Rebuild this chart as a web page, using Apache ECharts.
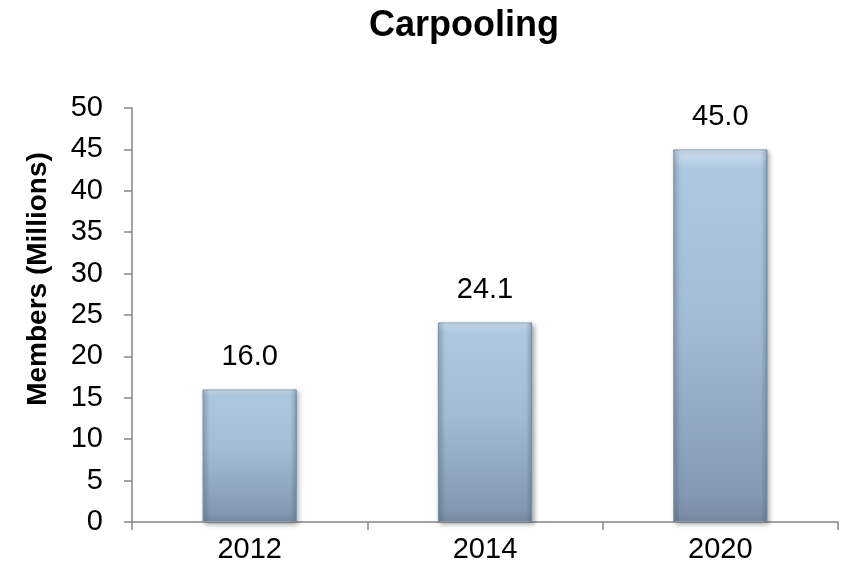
<!DOCTYPE html>
<html>
<head>
<meta charset="utf-8">
<script src="https://cdn.jsdelivr.net/npm/echarts@6/dist/echarts.min.js"></script>
<style>html,body{margin:0;padding:0;background:#fff;}#c{width:843px;height:575px;}</style>
</head>
<body>
<div id="c"></div>
<script>
var categories = ['2012', '2014', '2020'];
var values = [16.0, 24.1, 45.0];
var chart = echarts.init(document.getElementById('c'));
chart.setOption({
  animation: false,
  title: {
    text: 'Carpooling',
    left: 459, top: 3, textAlign: 'center',
    textStyle: {fontFamily: 'Liberation Sans', fontSize: 36, fontWeight: 'bold', color: '#000'}
  },
  grid: {left: 132, right: 5, top: 108, bottom: 53},
  xAxis: {
    type: 'category', data: categories,
    axisLine: {lineStyle: {color: '#868686', width: 1.5}},
    axisTick: {show: true, length: 8, lineStyle: {color: '#868686', width: 1.5}},
    axisLabel: {fontFamily: 'Liberation Sans', fontSize: 29, color: '#000', margin: 13}
  },
  yAxis: {
    type: 'value', min: 0, max: 50, interval: 5,
    name: 'Members (Millions)', nameLocation: 'middle', nameGap: 80, nameRotate: 90,
    nameTextStyle: {fontFamily: 'Liberation Sans', fontSize: 28, fontWeight: 'bold', color: '#000', padding: [0, 0, 0, 72]},
    axisLine: {show: true, lineStyle: {color: '#868686', width: 1.5}},
    axisTick: {show: true, length: 8, lineStyle: {color: '#868686', width: 1.5}},
    axisLabel: {fontFamily: 'Liberation Sans', fontSize: 29, color: '#000', margin: 29},
    splitLine: {show: false}
  },
  series: [{
    type: 'bar', data: values, barWidth: '40%',
    itemStyle: {
      color: new echarts.graphic.LinearGradient(0, 0, 0, 1, [
        {offset: 0, color: '#d0e2f2'},
        {offset: 0.05, color: '#aec8e0'},
        {offset: 0.45, color: '#a3bcd4'},
        {offset: 0.93, color: '#8399b2'},
        {offset: 1, color: '#75899f'}
      ]),
      borderColor: '#8ea4bc', borderWidth: 1,
      shadowColor: 'rgba(0,0,0,0.35)', shadowBlur: 5, shadowOffsetX: 2, shadowOffsetY: 2
    },
    label: {
      show: true, position: 'top', distance: 18,
      formatter: function (p) { return p.value.toFixed(1); },
      fontFamily: 'Liberation Sans', fontSize: 29, color: '#000'
    }
  }, {
    type: 'bar', data: values, barWidth: '40%', barGap: '-100%', silent: true,
    itemStyle: {
      color: new echarts.graphic.LinearGradient(0, 0, 1, 0, [
        {offset: 0, color: 'rgba(70,90,120,0.30)'},
        {offset: 0.07, color: 'rgba(70,90,120,0)'},
        {offset: 0.93, color: 'rgba(70,90,120,0)'},
        {offset: 1, color: 'rgba(70,90,120,0.35)'}
      ])
    },
    label: {show: false}
  }]
});
</script>
</body>
</html>
